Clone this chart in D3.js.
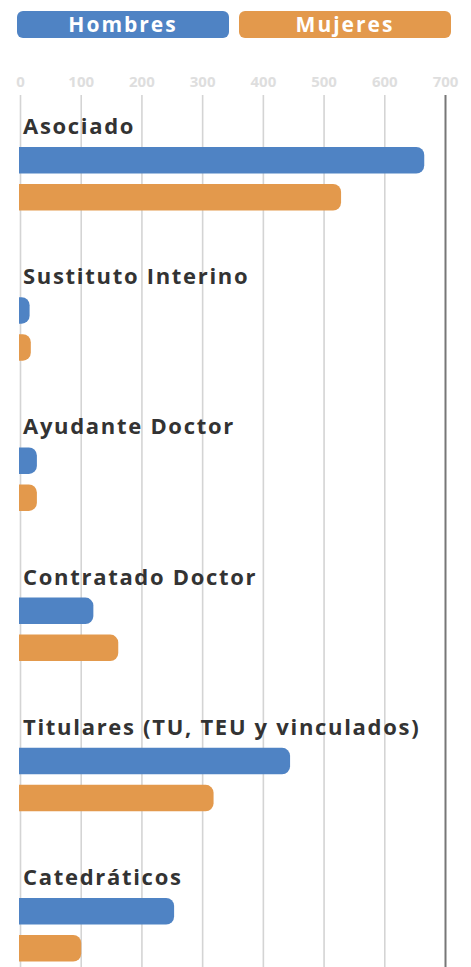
<!DOCTYPE html>
<html>
<head>
<meta charset="utf-8">
<script src="https://cdn.jsdelivr.net/npm/d3@7"></script>
<style>
  body { margin: 0; background: #fff; }
  svg { display: block; font-family: "Open Sans", sans-serif; }
</style>
</head>
<body>
<svg id="chart" width="471" height="967"></svg>
<script>
var categorias = ["Asociado", "Sustituto Interino", "Ayudante Doctor", "Contratado Doctor", "Titulares (TU, TEU y vinculados)", "Catedráticos"];
var hombres = [665, 15, 27, 120, 444, 253];
var mujeres = [528, 17, 27, 161, 318, 100];
var series = ["Hombres", "Mujeres"];
var ticks = [0, 100, 200, 300, 400, 500, 600, 700];
var color = ["#4f83c4", "#e3994c"];

var width = 471, height = 967;
var svg = d3.select("#chart");

// scales
var x = d3.scaleLinear().domain([0, 700]).range([20.5, 445.5]);
var y = d3.scaleBand().domain(categorias).range([110, 110 + 150.2 * categorias.length]);

// legend
var legW = 212, legGap = 10;
var leg = svg.selectAll(".leg")
  .data(series)
  .enter()
  .append("g")
    .attr("class", "leg")
    .attr("transform", function(d, i) { return "translate(" + (17 + i * (legW + legGap)) + ",11)"; });
leg.append("rect")
  .attr("width", legW)
  .attr("height", 27)
  .attr("rx", 6)
  .style("fill", function(d, i) { return color[i]; });
leg.append("text")
  .attr("x", legW / 2)
  .attr("y", 20.5)
  .attr("text-anchor", "middle")
  .style("fill", "#fff")
  .style("font-weight", "700")
  .style("font-size", "21px")
  .style("letter-spacing", "2px")
  .text(function(d) { return d; });

// tick labels
svg.selectAll(".tick-label")
  .data(ticks)
  .enter()
  .append("text")
    .attr("class", "tick-label")
    .attr("x", function(d) { return x(d); })
    .attr("y", 87)
    .attr("text-anchor", "middle")
    .style("fill", "#dedede")
    .style("font-weight", "700")
    .style("font-size", "15px")
    .text(function(d) { return d; });

// gridlines
svg.selectAll(".grid")
  .data(ticks)
  .enter()
  .append("line")
    .attr("class", "grid")
    .attr("x1", function(d) { return x(d); })
    .attr("x2", function(d) { return x(d); })
    .attr("y1", 95)
    .attr("y2", height)
    .style("stroke", function(d) { return d == 700 ? "#777" : "#d4d4d4"; })
    .style("stroke-width", function(d) { return d == 700 ? 2 : 1.6; });

// category labels
svg.selectAll(".cat")
  .data(categorias)
  .enter()
  .append("text")
    .attr("class", "cat")
    .attr("x", 23)
    .attr("y", function(d) { return y(d) + 24; })
    .style("fill", "#333")
    .style("font-weight", "700")
    .style("font-size", "22px")
    .style("letter-spacing", "1.7px")
    .text(function(d) { return d; });

// bars: flat left end, rounded right end
function barPath(x0, x1, y0, h, r) {
  r = Math.min(r, (x1 - x0), h / 2);
  return "M" + x0 + "," + y0 +
    "H" + (x1 - r) +
    "A" + r + "," + r + " 0 0 1 " + x1 + "," + (y0 + r) +
    "V" + (y0 + h - r) +
    "A" + r + "," + r + " 0 0 1 " + (x1 - r) + "," + (y0 + h) +
    "H" + x0 + "Z";
}

var barH = 26.5;
[hombres, mujeres].forEach(function(vals, s) {
  svg.selectAll(".bar" + s)
    .data(vals)
    .enter()
    .append("path")
      .attr("class", "bar" + s)
      .attr("d", function(d, i) {
        return barPath(19, x(d), y(categorias[i]) + 37 + s * 37, barH, 8);
      })
      .style("fill", color[s]);
});
</script>
</body>
</html>
